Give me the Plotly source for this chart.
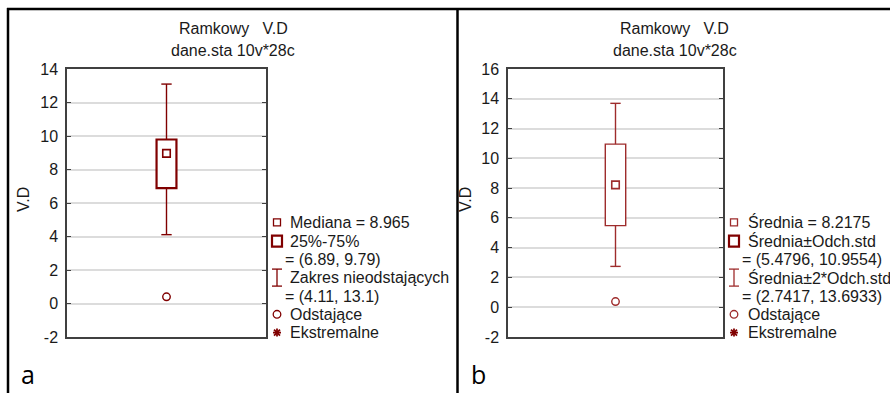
import plotly.graph_objects as go

W, H = 890, 393

# ---------------- data ----------------
# panel a: median / quartiles / non-outlier range
median_a = 8.965
q1_a, q3_a = 6.89, 9.79
lo_a, hi_a = 4.11, 13.1
outliers_a = [0.4]

# panel b: mean / mean±SD / mean±2SD
mean_b = 8.2175
sd_lo_b, sd_hi_b = 5.4796, 10.9554
sd2_lo_b, sd2_hi_b = 2.7417, 13.6933
outliers_b = [0.38]

title_lines = ["Ramkowy   V.D", "dane.sta 10v*28c"]
axis_title = "V.D"
yticks_a = [-2, 0, 2, 4, 6, 8, 10, 12, 14]
yticks_b = [-2, 0, 2, 4, 6, 8, 10, 12, 14, 16]
yticklabels_a = ["-2", "0", "2", "4", "6", "8", "10", "12", "14"]
yticklabels_b = ["-2", "0", "2", "4", "6", "8", "10", "12", "14", "16"]

legend_a = ["Mediana = 8.965", "25%-75%", "= (6.89, 9.79)", "Zakres nieodstających",
            "= (4.11, 13.1)", "Odstające", "Ekstremalne"]
legend_b = ["Średnia = 8.2175", "Średnia±Odch.std", "= (5.4796, 10.9554)",
            "Średnia±2*Odch.std", "= (2.7417, 13.6933)", "Odstające", "Ekstremalne"]
panel_labels = ["a", "b"]

# ---------------- style ----------------
FONT = "Liberation Sans, Arial, sans-serif"
TXT = "#1a1a1a"
RED_A = "#800000"
RED_B = "#9e2c2c"
GRID = "#dcdcdc"
AX = "#404040"


def px(x):
    return x / W


def py(y):
    return 1 - y / H


fig = go.Figure()


def add_panel(xa, ya, center, lo_box, hi_box, lo_w, hi_w, outl, color, box_lw, box_w):
    fig.add_trace(go.Bar(x=[0], base=[lo_box], y=[hi_box - lo_box], width=box_w,
                         marker=dict(color="white", line=dict(color=color, width=box_lw)),
                         xaxis=xa, yaxis=ya, showlegend=False, hoverinfo="skip"))
    fig.add_trace(go.Scatter(x=[0, 0, None, 0, 0], y=[lo_w, lo_box, None, hi_box, hi_w],
                             mode="lines", line=dict(color=color, width=1.4),
                             xaxis=xa, yaxis=ya, showlegend=False, hoverinfo="skip"))
    fig.add_trace(go.Scatter(x=[0, 0], y=[lo_w, hi_w], mode="markers",
                             marker=dict(symbol="line-ew", size=7.4, color=color,
                                         line=dict(color=color, width=1.4)),
                             xaxis=xa, yaxis=ya, showlegend=False, hoverinfo="skip"))
    fig.add_trace(go.Scatter(x=[0], y=[center], mode="markers",
                             marker=dict(symbol="square-open", size=7.5, color=color,
                                         line=dict(color=color, width=1.6)),
                             xaxis=xa, yaxis=ya, showlegend=False, hoverinfo="skip"))
    fig.add_trace(go.Scatter(x=[0] * len(outl), y=outl, mode="markers",
                             marker=dict(symbol="circle-open", size=7.5, color=color,
                                         line=dict(color=color, width=1.4)),
                             xaxis=xa, yaxis=ya, showlegend=False, hoverinfo="skip"))


add_panel("x", "y", median_a, q1_a, q3_a, lo_a, hi_a, outliers_a, RED_A, 2.2, 0.1)
add_panel("x2", "y2", mean_b, sd_lo_b, sd_hi_b, sd2_lo_b, sd2_hi_b, outliers_b, RED_B, 1.4, 0.095)

ydom = [py(337), py(69)]
common_x = dict(range=[-0.5, 0.5], showticklabels=False, showgrid=False, zeroline=False,
                showline=True, linecolor=AX, linewidth=1.5, mirror=True, ticks="",
                fixedrange=True, automargin=False)
common_y = dict(showgrid=True, gridcolor=GRID, gridwidth=1.5, zeroline=False,
                showline=True, linecolor=AX, linewidth=1.5, mirror="ticks",
                ticks="inside", ticklen=4, tickcolor=AX, tickwidth=1, automargin=False,
                tickfont=dict(family=FONT, size=16, color=TXT), ticklabelstandoff=4)

fig.update_layout(
    template="none",
    width=W, height=H, autosize=False,
    margin=dict(l=0, r=0, t=0, b=0, pad=0, autoexpand=False),
    paper_bgcolor="white", plot_bgcolor="white", showlegend=False,
    barmode="overlay",
    xaxis=dict(domain=[px(67), px(266)], anchor="y", **common_x),
    yaxis=dict(domain=ydom, anchor="x", range=[-2, 14], tickvals=yticks_a,
               ticktext=yticklabels_a, **common_y),
    xaxis2=dict(domain=[px(508), px(723)], anchor="y2", **common_x),
    yaxis2=dict(domain=ydom, anchor="x2", range=[-2, 16], tickvals=yticks_b,
                ticktext=yticklabels_b, **common_y),
)

shapes = []
shapes.append(dict(type="line", xref="paper", yref="paper", x0=px(7), x1=px(890), y0=py(9), y1=py(9),
                   line=dict(color="black", width=2.5)))
shapes.append(dict(type="line", xref="paper", yref="paper", x0=px(8), x1=px(8), y0=py(8), y1=py(393),
                   line=dict(color="black", width=2.5)))
shapes.append(dict(type="line", xref="paper", yref="paper", x0=px(457.5), x1=px(457.5), y0=py(8), y1=py(393),
                   line=dict(color="black", width=2.5)))

annotations = []

rows = [222.3, 241.2, 259.8, 277.6, 296.0, 314.3, 332.6]


def add_legend(sym_x, txt_x, cont_x, texts, color_thin, color_thick):
    shapes.append(dict(type="rect", xref="paper", yref="paper",
                       x0=px(sym_x - 3.5), x1=px(sym_x + 3.5), y0=py(rows[0] + 3.5), y1=py(rows[0] - 3.5),
                       line=dict(color=color_thin, width=1.3)))
    shapes.append(dict(type="rect", xref="paper", yref="paper",
                       x0=px(sym_x - 5), x1=px(sym_x + 5), y0=py(rows[1] + 5.5), y1=py(rows[1] - 5.5),
                       line=dict(color=color_thick, width=2.2)))
    yt, yb = rows[3] - 8.5, rows[3] + 8.5
    shapes.append(dict(type="line", xref="paper", yref="paper", x0=px(sym_x), x1=px(sym_x),
                       y0=py(yt), y1=py(yb), line=dict(color=color_thin, width=1.3)))
    for yy in (yt, yb):
        shapes.append(dict(type="line", xref="paper", yref="paper", x0=px(sym_x - 5), x1=px(sym_x + 5),
                           y0=py(yy), y1=py(yy), line=dict(color=color_thin, width=1.3)))
    shapes.append(dict(type="circle", xref="paper", yref="paper",
                       x0=px(sym_x - 3.8), x1=px(sym_x + 3.8), y0=py(rows[5] + 3.8), y1=py(rows[5] - 3.8),
                       line=dict(color=color_thin, width=1.3)))
    r = 4
    cy = rows[6]
    for dx, dy in ((0, r), (r, 0), (r * 0.75, r * 0.75), (r * 0.75, -r * 0.75)):
        shapes.append(dict(type="line", xref="paper", yref="paper",
                           x0=px(sym_x - dx), x1=px(sym_x + dx), y0=py(cy - dy), y1=py(cy + dy),
                           line=dict(color=color_thick, width=1.8)))
    for i, t in enumerate(texts):
        x = cont_x if i in (2, 4) else txt_x
        annotations.append(dict(x=px(x), y=py(rows[i]), xref="paper", yref="paper", text=t,
                                showarrow=False, xanchor="left", yanchor="middle",
                                font=dict(family=FONT, size=16, color=TXT)))


add_legend(277, 287.5, 282.5, legend_a, RED_A, RED_A)
add_legend(734, 745.5, 740, legend_b, RED_B, RED_A)

for cx in (233, 674.5):
    annotations.append(dict(x=px(cx), y=py(28.5), xref="paper", yref="paper", text=title_lines[0],
                            showarrow=False, xanchor="center", yanchor="middle",
                            font=dict(family=FONT, size=16, color=TXT)))
    annotations.append(dict(x=px(cx), y=py(50.5), xref="paper", yref="paper", text=title_lines[1],
                            showarrow=False, xanchor="center", yanchor="middle",
                            font=dict(family=FONT, size=16, color=TXT)))

for cx in (23, 465):
    annotations.append(dict(x=px(cx), y=py(200), xref="paper", yref="paper", text=axis_title,
                            textangle=-90, showarrow=False, xanchor="center", yanchor="middle",
                            font=dict(family=FONT, size=16, color=TXT)))

for cx, lab in ((28.5, panel_labels[0]), (478, panel_labels[1])):
    annotations.append(dict(x=px(cx), y=py(374), xref="paper", yref="paper", text=lab,
                            showarrow=False, xanchor="center", yanchor="middle",
                            font=dict(family="Open Sans, sans-serif", size=25, color="black")))

fig.update_layout(shapes=shapes, annotations=annotations)
fig.write_html("out.html")
